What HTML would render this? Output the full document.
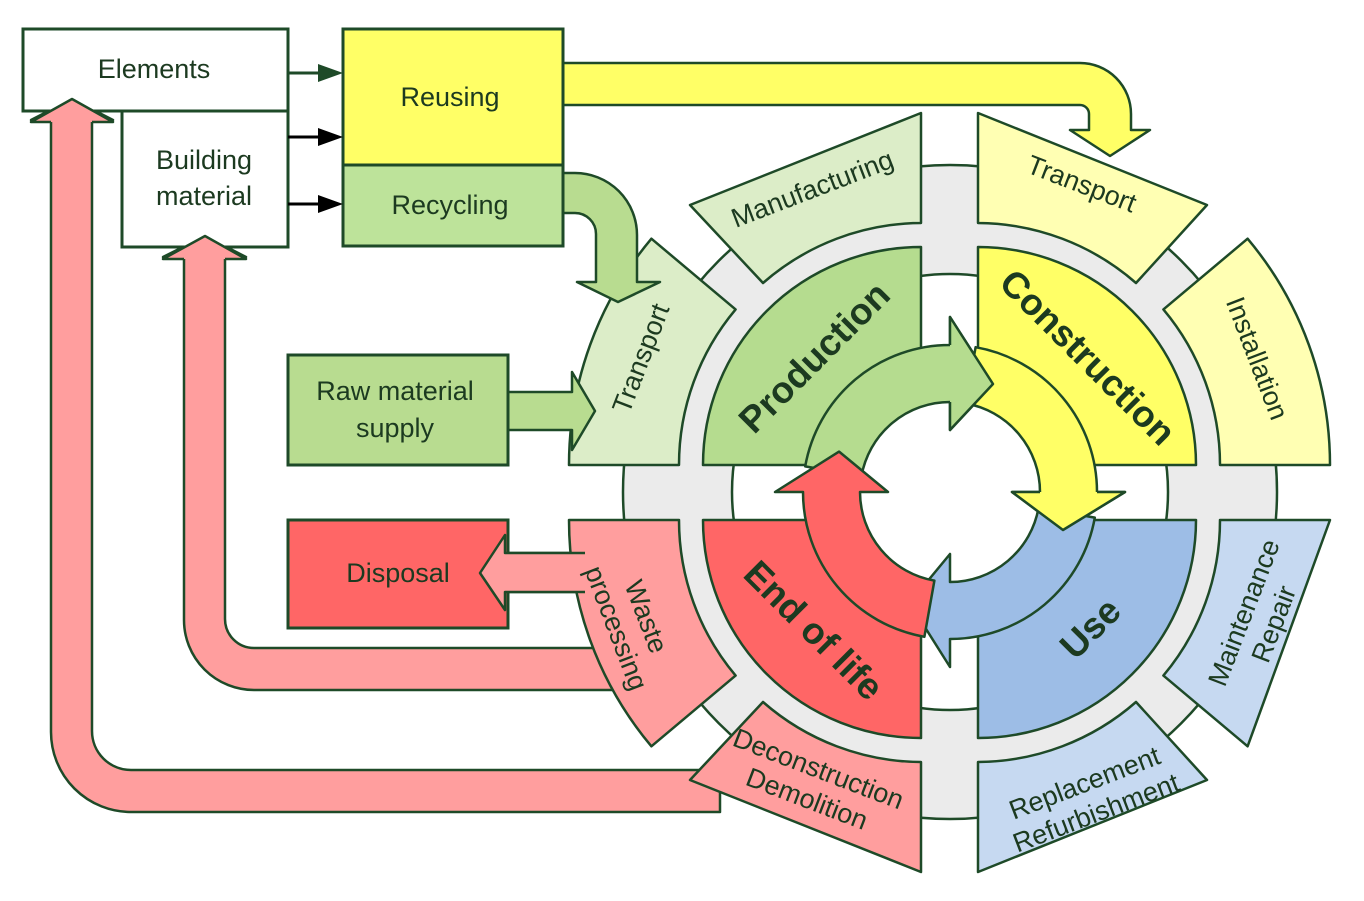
<!DOCTYPE html>
<html><head><meta charset="utf-8"><style>
html,body{margin:0;padding:0;background:#fff;}
svg{display:block;}
text{font-family:"Liberation Sans",Arial,sans-serif;fill:#1c3a20;}
.lb{font-size:27px;}
.bg{font-size:37px;font-weight:bold;fill:#1a4424;}
</style></head><body>
<svg width="1364" height="901" viewBox="0 0 1364 901" xmlns="http://www.w3.org/2000/svg">
<g stroke="#1e4a28" stroke-width="2.5" stroke-linejoin="round">
<circle cx="950" cy="492" r="327" fill="#ebebeb"/>
<circle cx="950" cy="492" r="218" fill="#fff"/>

<path d="M51,120 L31,120 L72,99 L113,120 L92,120 L92,731 A39,39 0 0 0 131,770 L720,770 L720,812 L131,812 A80,80 0 0 1 51,732 Z" fill="#ff9e9e"/>
<path d="M184,257 L163,257 L205,236 L246,257 L225,257 L225,619 A29,29 0 0 0 254,648 L625,648 L625,690 L254,690 A70,70 0 0 1 184,620 Z" fill="#ff9e9e"/>
<path d="M590,553 L505,553 L505,535 L480,573 L505,610 L505,592 L590,592 Z" fill="#ff9e9e"/>

<path d="M569,465 A352,352 0 0 1 651.4,238.7 L735.6,309.4 A242,242 0 0 0 679,465 Z" fill="#dcedc8"/>
<path d="M690,205 L921,113 L921,223 A242,242 0 0 0 763,283 Z" fill="#dcedc8"/>
<path d="M1207,205 L978,113 L978,223 A242,242 0 0 1 1136,283 Z" fill="#ffffb3"/>
<path d="M1330,465 A352,352 0 0 0 1247.6,238.7 L1163.4,309.4 A242,242 0 0 1 1220,465 Z" fill="#ffffb3"/>
<path d="M1330,520 L1247.6,746.3 L1163.4,675.6 A242,242 0 0 0 1220,520 Z" fill="#c6d9f1"/>
<path d="M1207,780 L978,872 L978,762 A242,242 0 0 0 1136,702 Z" fill="#c6d9f1"/>
<path d="M569,520 A352,352 0 0 0 651.4,746.3 L735.6,675.6 A242,242 0 0 1 679,520 Z" fill="#ff9e9e"/>
<path d="M690,780 L921,872 L921,762 A242,242 0 0 1 763,702 Z" fill="#ff9e9e"/>

<path d="M921,465 L703,465 A218,218 0 0 1 921,247 Z" fill="#b5dc8f"/>
<path d="M978,465 L978,247 A218,218 0 0 1 1196,465 Z" fill="#ffff66"/>
<path d="M978,520 L1196,520 A218,218 0 0 1 978,738 Z" fill="#9dbde6"/>
<path d="M921,520 L921,738 A218,218 0 0 1 703,520 Z" fill="#ff6666"/>

<circle cx="950" cy="492" r="92" fill="#fff" stroke="none"/>

<path d="M805.2,466.4 A147,147 0 0 1 950,345 L950,317 L993,384 L950,430 L950,402 A90,90 0 0 0 861.4,476.4 Z" fill="#b5dc8f"/>
<path d="M975.6,347.2 A147,147 0 0 1 1097,492 L1125,492 L1063,530 L1012,492 L1040,492 A90,90 0 0 0 965.6,403.4 Z" fill="#ffff66"/>
<path d="M1094.8,517.6 A147,147 0 0 1 950,639 L950,667 L909.6,602.9 L950,554 L950,582 A90,90 0 0 0 1038.6,507.6 Z" fill="#9dbde6"/>
<path d="M924.4,636.8 A147,147 0 0 1 803,492 L775,492 L839.1,451.6 L888,492 L860,492 A90,90 0 0 0 934.4,580.6 Z" fill="#ff6666"/>
<path d="M950,345 L950,317 L993,384 L950,430 L950,402" fill="#b5dc8f"/>
<path d="M1097,492 L1125,492 L1063,530 L1012,492 L1040,492" fill="#ffff66"/>

<path d="M508,392 L572,392 L572,372 L595,411 L572,450 L572,430 L508,430 Z" fill="#b8dc90"/>
<path d="M560,173 L575,173 A62,62 0 0 1 637,235 L637,282 L660,282 L618,302 L577,282 L596,282 L596,234 A21,21 0 0 0 575,213 L560,213 Z" fill="#b8dc90"/>
<path d="M560,63 L1080,63 A51,51 0 0 1 1131,114 L1131,130 L1150,130 L1110,156 L1070,130 L1089,130 L1089,114 A9,9 0 0 0 1080,105 L560,105 Z" fill="#ffff66"/>
</g>

<g stroke="#1e4a28" stroke-width="3">
<rect x="23" y="29" width="265" height="82" fill="#fff"/>
<rect x="122" y="111" width="166" height="136" fill="#fff"/>
<rect x="343" y="29" width="220" height="136" fill="#ffff66"/>
<rect x="343" y="165" width="220" height="81" fill="#bde39a"/>
<rect x="288" y="355" width="220" height="110" fill="#b8dc90"/>
<rect x="288" y="520" width="220" height="108" fill="#ff6666"/>
</g>
<g stroke="#1e4a28" stroke-width="2.5" stroke-linejoin="round">
<path d="M51,122 L31,122 L72,99 L113,122 L92,122" fill="#ff9e9e"/>
<path d="M184,259 L163,259 L205,236 L246,259 L225,259" fill="#ff9e9e"/>
<path d="M585,553 L505,553 L505,535 L480,573 L505,610 L505,592 L585,592" fill="#ff9e9e"/>
</g>

<g stroke-width="3">
<line x1="288" y1="73" x2="320" y2="73" stroke="#1e4a28"/>
<polygon points="318,64 343,73 318,82" fill="#1e4a28"/>
<line x1="288" y1="137" x2="320" y2="137" stroke="#000"/>
<polygon points="318,128 343,137 318,146" fill="#000"/>
<line x1="288" y1="204" x2="320" y2="204" stroke="#000"/>
<polygon points="318,195 343,204 318,213" fill="#000"/>
</g>

<g class="lb" text-anchor="middle">
<text x="154" y="78">Elements</text>
<text x="204" y="169">Building</text>
<text x="204" y="205">material</text>
<text x="450" y="106">Reusing</text>
<text x="450" y="214">Recycling</text>
<text x="395" y="400">Raw material</text>
<text x="395" y="437">supply</text>
<text x="398" y="582">Disposal</text>
</g>

<g class="bg" text-anchor="middle">
<text transform="translate(814,357) rotate(-45)" y="13">Production</text>
<text transform="translate(1088,357) rotate(45)" y="13">Construction</text>
<text transform="translate(1090,628) rotate(-45)" y="13">Use</text>
<text transform="translate(814,630) rotate(45)" y="13">End of life</text>
</g>

<g class="lb" text-anchor="middle">
<text transform="translate(812,188) rotate(-21)" y="10">Manufacturing</text>
<text transform="translate(1082,183) rotate(21)" y="10">Transport</text>
<text transform="translate(1258,358) rotate(69)" y="10">Installation</text>
<text transform="translate(640,358) rotate(-69)" y="10">Transport</text>
<text transform="translate(632,622) rotate(69)"><tspan x="0" y="-6">Waste</tspan><tspan x="0" y="26">processing</tspan></text>
<text transform="translate(1258,618) rotate(-69)"><tspan x="0" y="-6">Maintenance</tspan><tspan x="0" y="26">Repair</tspan></text>
<text transform="translate(813,783) rotate(21)"><tspan x="0" y="-6">Deconstruction</tspan><tspan x="0" y="26">Demolition</tspan></text>
<text transform="translate(1090,797) rotate(-21)"><tspan x="0" y="-6">Replacement</tspan><tspan x="0" y="26">Refurbishment</tspan></text>
</g>
</svg>
</body></html>
